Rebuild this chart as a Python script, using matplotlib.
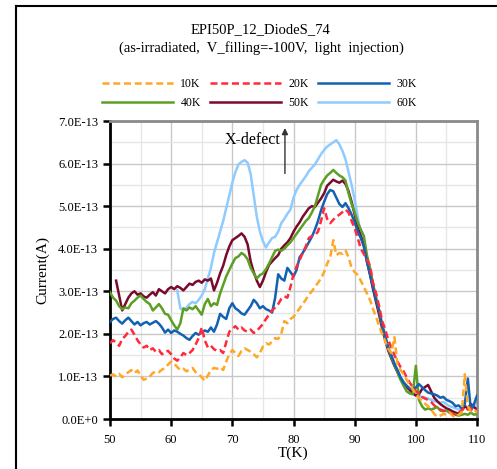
import numpy as np
import matplotlib
matplotlib.use("Agg")
import matplotlib.pyplot as plt
from matplotlib.lines import Line2D

plt.rcParams['font.family'] = ['Liberation Serif', 'DejaVu Serif']

# temperature grid of the scan (K), 0.5 K steps from 50 to 110
temperatura = np.arange(50, 110.01, 0.5)

# current in units of 1E-13 A
i_10k = [1.02, 1.05, 1.00, 1.06, 0.98, 1.04, 1.10, 1.15, 1.08, 1.14,
         1.02, 0.92, 0.95, 1.00, 1.08, 1.12, 1.10, 1.16, 1.20, 1.28,
         1.35, 1.30, 1.22, 1.15, 1.18, 1.12, 1.16, 1.20, 1.10, 1.05,
         0.98, 0.90, 1.02, 1.15, 1.20, 1.18, 1.22, 1.15, 1.35, 1.52,
         1.62, 1.55, 1.48, 1.60, 1.66, 1.62, 1.58, 1.52, 1.45, 1.55,
         1.70, 1.78, 1.75, 1.82, 1.90, 1.88, 2.00, 2.30, 2.25, 2.35,
         2.40, 2.50, 2.60, 2.70, 2.80, 2.92, 3.00, 3.10, 3.20, 3.30,
         3.45, 3.65, 3.80, 4.20, 3.85, 3.90, 3.88, 3.96, 3.80, 3.55,
         3.45, 3.38, 3.25, 3.10, 2.95, 2.80, 2.58, 2.40, 2.18, 2.00,
         1.82, 1.65, 1.55, 1.92, 1.28, 1.15, 1.05, 0.92, 0.80, 0.70,
         0.58, 0.50, 0.42, 0.36, 0.30, 0.22, 0.12, 0.05, 0.08, 0.12,
         0.10, 0.15, 0.08, 0.04, 0.10, 0.15, 1.05, 0.30, 0.18, 0.22,
         0.15]
i_20k = [1.78, 1.85, 1.80, 1.72, 1.88, 1.95, 2.05, 2.10, 1.98, 1.85,
         1.75, 1.68, 1.72, 1.62, 1.66, 1.58, 1.62, 1.52, 1.58, 1.60,
         1.52, 1.42, 1.37, 1.45, 1.55, 1.50, 1.55, 1.62, 1.75, 1.90,
         2.15, 1.85, 1.68, 1.72, 1.64, 1.60, 1.62, 1.55, 1.80, 2.05,
         2.12, 2.18, 2.10, 2.15, 2.08, 2.05, 2.10, 2.02, 2.07, 2.15,
         2.23, 2.35, 2.45, 2.55, 2.62, 2.70, 2.82, 2.88, 2.85, 3.10,
         3.40, 3.58, 3.73, 3.90, 4.05, 4.25, 4.30, 4.32, 4.40, 4.65,
         4.95, 4.70, 4.60, 4.68, 4.75, 4.80, 4.86, 4.92, 4.85, 4.65,
         4.48, 4.25, 4.00, 3.88, 3.75, 3.60, 3.20, 2.95, 2.65, 2.30,
         2.10, 1.85, 1.68, 1.50, 1.35, 1.22, 1.12, 0.98, 0.85, 0.75,
         0.65, 0.60, 0.52, 0.48, 0.45, 0.40, 0.32, 0.27, 0.22, 0.20,
         0.18, 0.15, 0.12, 0.10, 0.15, 0.20, 0.28, 0.22, 0.25, 0.20,
         0.22]
i_30k = [2.28, 2.35, 2.38, 2.30, 2.24, 2.32, 2.38, 2.30, 2.22, 2.28,
         2.20, 2.25, 2.28, 2.22, 2.26, 2.30, 2.24, 2.15, 2.03, 2.10,
         2.02, 2.08, 2.05, 2.00, 1.96, 1.90, 1.86, 1.95, 2.02, 1.98,
         2.04, 2.08, 2.05, 2.15, 2.05, 2.22, 2.47, 2.40, 2.35, 2.60,
         2.72, 2.60, 2.55, 2.48, 2.45, 2.55, 2.65, 2.80, 2.72, 2.60,
         2.65, 2.58, 2.55, 2.50, 2.85, 3.40, 3.30, 3.25, 3.55, 3.45,
         3.35, 3.50, 3.80, 3.90, 4.02, 4.15, 4.28, 4.45, 4.65, 4.90,
         5.10, 5.28, 5.38, 5.35, 5.20, 5.05, 4.98, 5.07, 4.95, 4.80,
         4.62, 4.40, 4.25, 4.05, 3.70, 3.40, 3.10, 2.80, 2.55, 2.20,
         1.95, 1.68, 1.50, 1.30, 1.15, 0.98, 0.85, 0.78, 0.72, 0.70,
         0.74, 0.82, 0.75, 0.68, 0.62, 0.60, 0.58, 0.55, 0.50, 0.52,
         0.45, 0.42, 0.38, 0.30, 0.32, 0.25, 0.35, 0.95, 0.20, 0.35,
         0.55]
i_40k = [2.98, 2.85, 2.78, 2.65, 2.58, 2.62, 2.60, 2.72, 2.78, 2.85,
         2.90, 2.82, 2.75, 2.70, 2.55, 2.62, 2.70, 2.60, 2.47, 2.45,
         2.32, 2.20, 2.10, 2.25, 2.60, 2.55, 2.62, 2.58, 2.65, 2.55,
         2.45, 2.70, 2.82, 2.65, 2.72, 2.68, 2.95, 3.15, 3.35, 3.50,
         3.65, 3.78, 3.82, 3.90, 3.85, 3.75, 3.55, 3.42, 3.30, 3.38,
         3.42, 3.52, 3.65, 3.80, 3.95, 3.98, 3.95, 4.00, 4.08, 4.15,
         4.25, 4.35, 4.45, 4.55, 4.65, 4.72, 4.85, 5.00, 5.25, 5.50,
         5.62, 5.72, 5.78, 5.85, 5.78, 5.72, 5.68, 5.60, 5.30, 5.05,
         4.85, 4.62, 4.45, 4.30, 3.85, 3.55, 3.18, 2.85, 2.55, 2.20,
         1.90, 1.65, 1.45, 1.28, 1.10, 0.92, 0.78, 0.65, 0.60, 0.58,
         1.25, 0.45, 0.30, 0.22, 0.25, 0.22, 0.25, 0.28, 0.20, 0.18,
         0.20, 0.15, 0.12, 0.10, 0.08, 0.10, 0.12, 0.10, 0.15, 0.10,
         0.12]
i_50k = [np.nan, np.nan, 3.25, 2.90, 2.55, 2.70, 2.85, 2.95, 3.00, 2.92,
         2.95, 2.88, 2.85, 2.92, 2.98, 2.90, 3.05, 3.00, 2.95, 3.05,
         3.10, 3.05, 3.12, 3.08, 3.02, 3.10, 3.18, 3.15, 3.22, 3.25,
         3.20, 3.28, 3.25, 3.30, 3.02, 3.20, 3.42, 3.60, 3.85, 4.05,
         4.20, 4.25, 4.30, 4.36, 4.28, 4.10, 3.70, 3.45, 3.25, 3.10,
         3.25, 3.45, 3.62, 3.70, 3.78, 3.85, 4.00, 4.08, 4.15, 4.25,
         4.40, 4.52, 4.62, 4.75, 4.85, 4.95, 5.00, 4.98, 5.08, 5.18,
         5.30, 5.48, 5.55, 5.62, 5.58, 5.55, 5.60, 5.52, 5.35, 5.10,
         4.80, 4.50, 4.30, 4.10, 3.70, 3.40, 3.05, 2.75, 2.45, 2.12,
         1.85, 1.60, 1.42, 1.25, 1.10, 0.95, 0.85, 0.75, 0.68, 0.60,
         0.55, 0.58, 0.70, 0.75, 0.80, 0.65, 0.50, 0.42, 0.35, 0.30,
         0.25, 0.22, 0.18, 0.15, 0.12, 0.20, 0.30, 0.25, 0.35, 0.28,
         0.22]
i_60k = [np.nan, np.nan, np.nan, np.nan, np.nan, np.nan, np.nan, np.nan, np.nan, np.nan,
         np.nan, np.nan, np.nan, np.nan, np.nan, np.nan, np.nan, np.nan, np.nan, np.nan,
         np.nan, np.nan, 3.02, 2.60, 2.55, 2.62, 2.70, 2.75, 2.72, 2.80,
         2.90, 3.05, 3.30, 3.55, 3.90, 4.15, 4.40, 4.65, 4.95, 5.25,
         5.55, 5.80, 5.98, 6.04, 6.08, 6.02, 5.75, 5.25, 4.75, 4.40,
         4.18, 4.03, 4.15, 4.25, 4.28, 4.40, 4.60, 4.70, 4.82, 4.92,
         5.20, 5.38, 5.50, 5.60, 5.70, 5.82, 5.90, 5.98, 6.10, 6.22,
         6.32, 6.40, 6.45, 6.50, 6.55, 6.45, 6.30, 6.10, 5.80, 5.50,
         5.15, 4.75, 4.35, 4.05, 3.75, 3.45, 3.10, 2.80, 2.50, 2.18,
         1.90, 1.65, 1.45, 1.28, 1.12, 0.98, 0.88, 0.78, 0.70, 0.62,
         0.58, 0.55, 0.52, 0.50, 0.48, 0.45, 0.42, 0.40, 0.38, 0.40,
         0.35, 0.30, 0.28, 0.25, 0.22, 0.25, 0.30, 0.28, 0.32, 0.35,
         0.30]

rotulos = ['10K', '20K', '30K', '40K', '50K', '60K']
series = [i_10k, i_20k, i_30k, i_40k, i_50k, i_60k]
cores = ['#FFA726', '#FF2A3A', '#1262B3', '#5C9F24', '#7A0A2C', '#8ECBFF']
estilos = [(0, (2.8, 1.5)), (0, (2.8, 1.5)), '-', '-', '-', '-']
ordem_z = [8, 7, 6, 5, 4, 3]

y_ticks = [0, 1, 2, 3, 4, 5, 6, 7]
y_rotulos = ['0.0E+0', '1.0E-13', '2.0E-13', '3.0E-13', '4.0E-13',
             '5.0E-13', '6.0E-13', '7.0E-13']

fig = plt.figure(figsize=(4.97, 4.69), dpi=100)
ax = fig.add_axes([0.2213, 0.1066, 0.7385, 0.6354])

linhas = []
for valores, cor, est, z, nome in zip(series, cores, estilos, ordem_z, rotulos):
    l, = ax.plot(temperatura, valores, color=cor, linestyle=est, lw=1.8,
                 zorder=z, label=nome)
    linhas.append(l)

ax.set_xlim(50, 110)
ax.set_ylim(0, 7)
ax.set_xticks(np.arange(50, 111, 10))
ax.set_xticks(np.arange(55, 110, 10), minor=True)
ax.set_yticks(y_ticks)
ax.set_yticklabels(y_rotulos)
ax.set_yticks(np.arange(0.5, 7, 1), minor=True)
ax.grid(True, which='major', color='#c8c8c8', lw=1.0)
ax.grid(True, which='minor', color='#e6e6e6', lw=1.0)
ax.set_axisbelow(True)
ax.tick_params(axis='both', which='major', direction='out', length=5, width=1.8,
               labelsize=9, color='black')
ax.tick_params(axis='both', which='minor', length=0)
ax.tick_params(axis='x', pad=6)

for lado in ['left', 'bottom']:
    ax.spines[lado].set_color('black')
    ax.spines[lado].set_linewidth(2.0)
for lado in ['top', 'right']:
    ax.spines[lado].set_color('#8a8a8a')
    ax.spines[lado].set_linewidth(2.0)

ax.set_xlabel('T(K)', fontsize=11, labelpad=0)
ax.set_ylabel('Current(A)', fontsize=11, labelpad=6)

ax.text(77.9, 6.56, 'X-defect', fontsize=11.5, ha='right', va='center', zorder=10)
ax.annotate('', xy=(78.6, 6.9), xytext=(78.6, 5.7),
            arrowprops=dict(arrowstyle='-|>', color='#333333', lw=1.0,
                            mutation_scale=9), zorder=10)

fig.text(0.525, 0.936, 'EPI50P_12_DiodeS_74', ha='center', va='center', fontsize=10.5)
fig.text(0.527, 0.898, '(as-irradiated,  V_filling=-100V,  light  injection)',
         ha='center', va='center', fontsize=10.5)

# legend in rows of three (matplotlib fills by column)
ordem = [0, 3, 1, 4, 2, 5]
fig.legend([linhas[k] for k in ordem], [rotulos[k] for k in ordem],
           loc='center', bbox_to_anchor=(0.522, 0.801), ncol=3, frameon=False,
           fontsize=8.5, handlelength=6.0, handletextpad=0.6,
           columnspacing=0.8, labelspacing=0.62)

# outer frame of the page
fig.add_artist(Line2D([16 / 497, 16 / 497], [-0.1, 1 - 6 / 469], color='black',
                      lw=1.5, transform=fig.transFigure))
fig.add_artist(Line2D([16 / 497, 1.1], [1 - 6 / 469, 1 - 6 / 469], color='black',
                      lw=1.5, transform=fig.transFigure))

fig.savefig('out.png', dpi=100)
